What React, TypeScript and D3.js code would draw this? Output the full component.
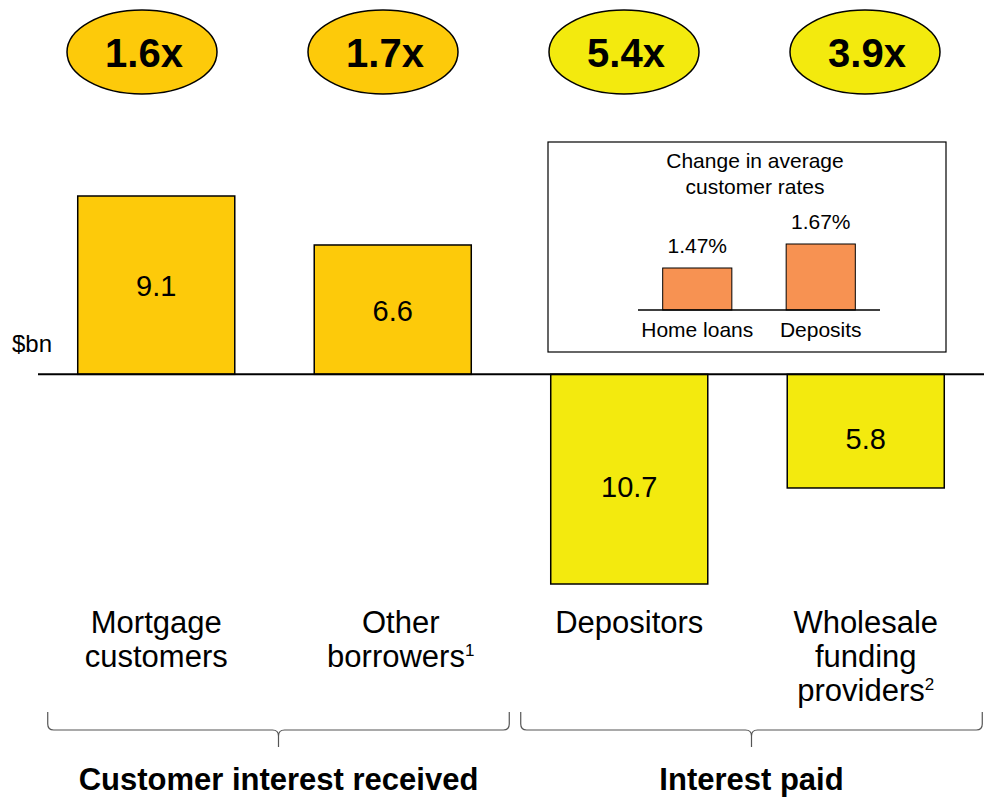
import React from 'react'
import {scaleBand, scaleLinear, scalePoint} from 'd3'

// main chart data ($bn)
const categories = ['Mortgage customers', 'Other borrowers', 'Depositors', 'Wholesale funding providers']
const labelLines = [['Mortgage', 'customers'], ['Other', 'borrowers'], ['Depositors'], ['Wholesale', 'funding', 'providers']]
const footnotes = ['', '1', '', '2']
const values = [9.1, 6.6, -10.7, -5.8]
const multiples = ['1.6x', '1.7x', '5.4x', '3.9x']
const groups = ['Customer interest received', 'Interest paid']
const groupMembers = [[0, 1], [2, 3]]

// inset data (%)
const insetCategories = ['Home loans', 'Deposits']
const insetValues = [1.47, 1.67]

const W = 984
const H = 800
const font = '"Liberation Sans", Arial, sans-serif'
const received = '#FDCA0A'
const paid = '#F3EA0E'

function App() {
    const x = scaleBand().domain(categories).range([38, 984]).paddingInner(0.336).paddingOuter(0.168)
    const y = scaleLinear().domain([-10.7, 9.1]).range([584, 196])
    const bubbleX = scalePoint().domain(categories).range([142, 865])
    const fill = (v: number) => (v >= 0 ? received : paid)

    // inset
    const ix = scaleBand().domain(insetCategories).range([638, 880]).paddingInner(0.44).paddingOuter(0.2)
    const iy = scaleLinear().domain([1.12, 1.67]).range([310, 244])

    const brace = (x0: number, x1: number) => {
        const m = (x0 + x1) / 2
        return `M${x0},712 V724 Q${x0},730 ${x0 + 6},730 H${m - 6} Q${m},730 ${m},736 V747 M${m},736 Q${m},730 ${m + 6},730 H${x1 - 6} Q${x1},730 ${x1},724 V712`
    }

    return (
        <svg width={W} height={H} style={{position: 'absolute', left: 0, top: 0}} fontFamily={font}>
            <rect width={W} height={H} fill='white' />

            {/* multiples bubbles */}
            {categories.map((c, i) => (
                <g key={c}>
                    <ellipse cx={bubbleX(c)} cy={52} rx={75} ry={42} fill={fill(values[i])} stroke='black' strokeWidth={1.5} />
                    <text x={(bubbleX(c) as number) + 2} y={67} textAnchor='middle' fontSize={40} fontWeight='bold'>{multiples[i]}</text>
                </g>
            ))}

            {/* bars */}
            {categories.map((c, i) => {
                const v = values[i]
                const top = Math.min(y(v), y(0))
                const h = Math.abs(y(v) - y(0))
                const mid = top + h / 2 + (v < 0 ? 8 : 1)
                return (
                    <g key={c}>
                        <rect x={x(c)} y={top} width={x.bandwidth()} height={h} fill={fill(v)} stroke='black' strokeWidth={1.5} />
                        <text x={(x(c) as number) + x.bandwidth() / 2} y={mid + 10} textAnchor='middle' fontSize={29}>{Math.abs(v).toFixed(1)}</text>
                    </g>
                )
            })}
            <line x1={38} x2={984} y1={y(0)} y2={y(0)} stroke='black' strokeWidth={2} />
            <text x={12} y={352} fontSize={24}>$bn</text>

            {/* inset */}
            <rect x={548} y={142} width={398} height={210} fill='white' stroke='black' strokeWidth={1.2} />
            <text x={755} y={168} textAnchor='middle' fontSize={21}>Change in average</text>
            <text x={755} y={194} textAnchor='middle' fontSize={21}>customer rates</text>
            {insetCategories.map((c, i) => (
                <g key={c}>
                    <rect x={ix(c)} y={iy(insetValues[i])} width={ix.bandwidth()} height={iy(1.12) - iy(insetValues[i])} fill='#F79252' stroke='black' strokeWidth={1} />
                    <text x={(ix(c) as number) + ix.bandwidth() / 2} y={iy(insetValues[i]) - 15} textAnchor='middle' fontSize={21}>{insetValues[i].toFixed(2)}%</text>
                    <text x={(ix(c) as number) + ix.bandwidth() / 2} y={337} textAnchor='middle' fontSize={21}>{c}</text>
                </g>
            ))}
            <line x1={638} x2={880} y1={310} y2={310} stroke='black' strokeWidth={1.5} />

            {/* category labels */}
            {categories.map((c, i) => {
                const cx = (x(c) as number) + x.bandwidth() / 2 + (footnotes[i] === '1' ? 8 : 0)
                return (
                    <text key={c} x={cx} textAnchor='middle' fontSize={31}>
                        {labelLines[i].map((l, j) => (
                            <tspan key={j} x={cx} y={633 + j * 34}>
                                {l}
                                {j === labelLines[i].length - 1 && footnotes[i] ? <tspan fontSize={17} dy={-11}>{footnotes[i]}</tspan> : null}
                            </tspan>
                        ))}
                    </text>
                )
            })}

            {/* group braces */}
            {groups.map((g, k) => {
                const first = categories[groupMembers[k][0]]
                const last = categories[groupMembers[k][1]]
                const x0 = (x(first) as number) - 30
                const x1 = (x(last) as number) + x.bandwidth() + 38
                return (
                    <g key={g}>
                        <path d={brace(x0, x1)} fill='none' stroke='#555' strokeWidth={1.2} />
                        <text x={(x0 + x1) / 2} y={790} textAnchor='middle' fontSize={31} fontWeight='bold'>{g}</text>
                    </g>
                )
            })}
        </svg>
    )
}

export default App
